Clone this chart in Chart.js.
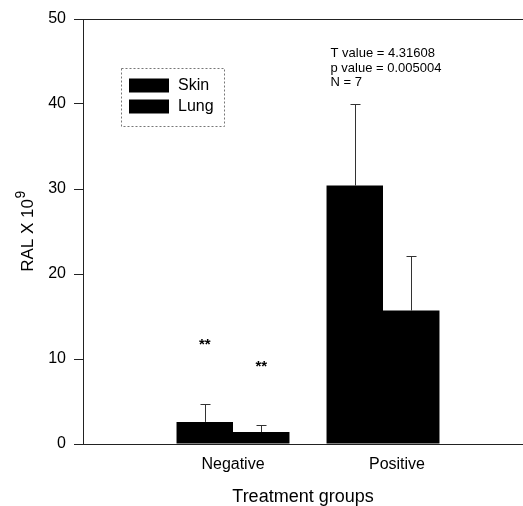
<!DOCTYPE html>
<html>
<head>
<meta charset="utf-8">
<script src="https://cdn.jsdelivr.net/npm/chart.js@4/dist/chart.umd.min.js"></script>
<style>
html,body{margin:0;padding:0;background:#fff;overflow:hidden}
#wrap{width:523px;height:506px;position:relative}
</style>
</head>
<body>
<div id="wrap"><canvas id="c" width="523" height="506"></canvas></div>
<script>
// ---- data ----
const categories = ['Negative', 'Positive'];
const categoryPositions = [1, 2];
const seriesNames = ['Skin', 'Lung'];
const skinMeans = [2.6, 30.4];
const skinErrors = [2.15, 9.6];
const lungMeans = [1.4, 15.7];
const lungErrors = [0.87, 6.45];
const skinMarks = ['**', ''];
const skinMarkLevels = [12.2, null];
const lungMarks = ['**', ''];
const lungMarkLevels = [9.6, null];
const yTicks = [0, 10, 20, 30, 40, 50];
const statLines = ['T value = 4.31608', 'p value = 0.005004', 'N = 7'];
const yTitleMain = 'RAL X 10';
const yTitleSup = '9';
const xTitle = 'Treatment groups';

const FONT = '"Liberation Sans", Arial, Helvetica, sans-serif';
const INK = '#000';
const LINE = '#222';

const decor = {
  id: 'decor',
  afterDatasetsDraw(chart) {
    const {ctx, chartArea: a, scales: {x, y}} = chart;
    ctx.save();
    // top frame line
    ctx.strokeStyle = LINE; ctx.lineWidth = 1;
    const ty = Math.round(a.top) + 0.5;
    ctx.beginPath(); ctx.moveTo(a.left, ty); ctx.lineTo(a.right, ty); ctx.stroke();

    // error bars (upper only)
    const means = [skinMeans, lungMeans];
    const errs = [skinErrors, lungErrors];
    ctx.strokeStyle = '#333';
    for (let d = 0; d < 2; d++) {
      const meta = chart.getDatasetMeta(d);
      meta.data.forEach((bar, i) => {
        const xp = Math.round(bar.x) + 0.5;
        const yb = y.getPixelForValue(means[d][i]);
        const yt = Math.round(y.getPixelForValue(means[d][i] + errs[d][i])) + 0.5;
        ctx.beginPath(); ctx.moveTo(xp, yb); ctx.lineTo(xp, yt); ctx.stroke();
        ctx.beginPath(); ctx.moveTo(xp - 5, yt); ctx.lineTo(xp + 5, yt); ctx.stroke();
      });
    }

    // significance marks
    const marks = [skinMarks, lungMarks];
    const levels = [skinMarkLevels, lungMarkLevels];
    ctx.fillStyle = INK;
    ctx.font = 'bold 15px ' + FONT;
    ctx.textAlign = 'center'; ctx.textBaseline = 'alphabetic';
    for (let d = 0; d < 2; d++) {
      const meta = chart.getDatasetMeta(d);
      meta.data.forEach((bar, i) => {
        if (!marks[d][i] || levels[d][i] == null) return;
        ctx.fillText(marks[d][i], bar.x, y.getPixelForValue(levels[d][i]) + 9);
      });
    }

    // statistics text
    const pb = chart.getDatasetMeta(0).data[1];
    ctx.font = '13px ' + FONT;
    ctx.textAlign = 'left'; ctx.textBaseline = 'middle';
    const sx = pb.x - pb.width / 2 + 4;
    const sy = y.getPixelForValue(45.9);
    statLines.forEach((t, i) => ctx.fillText(t, sx, sy + i * 14.5));

    // legend
    const lx = a.left + 38, ly = a.top + 48.5;
    ctx.strokeStyle = '#777'; ctx.setLineDash([2, 2]);
    ctx.strokeRect(Math.round(lx) + 0.5, Math.round(ly) + 0.5, 103, 58);
    ctx.setLineDash([]);
    ctx.font = '16px ' + FONT;
    seriesNames.forEach((n, i) => {
      const ry = ly + 11 + i * 21;
      ctx.fillStyle = chart.data.datasets[i].backgroundColor;
      ctx.fillRect(lx + 8, ry, 40, 14);
      ctx.fillStyle = INK;
      ctx.fillText(n, lx + 57, ry + 7.5);
    });

    // category labels
    ctx.font = '16px ' + FONT;
    ctx.textAlign = 'center'; ctx.textBaseline = 'middle';
    const labelShift = [0, 14];
    categories.forEach((c, i) => {
      ctx.fillText(c, x.getPixelForValue(categoryPositions[i]) + labelShift[i], a.bottom + 21);
    });

    // y title with superscript
    ctx.translate(27, (a.top + a.bottom) / 2);
    ctx.rotate(-Math.PI / 2);
    ctx.font = '17px ' + FONT;
    const wMain = ctx.measureText(yTitleMain).width;
    ctx.font = '14px ' + FONT;
    const wSup = ctx.measureText(yTitleSup).width;
    const start = -(wMain + wSup) / 2;
    ctx.textAlign = 'left'; ctx.textBaseline = 'alphabetic';
    ctx.font = '17px ' + FONT;
    ctx.fillText(yTitleMain, start, 6);
    ctx.font = '14px ' + FONT;
    ctx.fillText(yTitleSup, start + wMain + 0.5, -2);
    ctx.restore();
  }
};

const chart = new Chart(document.getElementById('c'), {
  type: 'bar',
  data: {
    datasets: [
      {
        label: seriesNames[0],
        data: categoryPositions.map((p, i) => ({x: p, y: skinMeans[i]})),
        backgroundColor: '#000',
        borderWidth: 0,
        categoryPercentage: 0.753,
        barPercentage: 1
      },
      {
        label: seriesNames[1],
        data: categoryPositions.map((p, i) => ({x: p, y: lungMeans[i]})),
        backgroundColor: '#000',
        borderWidth: 0,
        categoryPercentage: 0.753,
        barPercentage: 1
      }
    ]
  },
  options: {
    responsive: false,
    animation: false,
    devicePixelRatio: 1,
    layout: {padding: {top: 19, right: 0, bottom: 0, left: 0}},
    plugins: {legend: {display: false}, tooltip: {enabled: false}},
    scales: {
      x: {
        type: 'linear',
        offset: false,
        bounds: 'data',
        min: 0,
        max: 2.9333,
        afterBuildTicks: s => { s.ticks = categoryPositions.map(v => ({value: v})); },
        afterFit: s => { s.height = 62; },
        ticks: {display: false},
        grid: {display: false, offset: false},
        border: {display: true, color: LINE, width: 1},
        title: {
          display: true, text: xTitle, color: INK,
          font: {family: FONT, size: 18, lineHeight: 1},
          padding: {top: 0, bottom: 0}
        }
      },
      y: {
        min: 0,
        max: 50,
        afterBuildTicks: s => { s.ticks = yTicks.map(v => ({value: v})); },
        afterFit: s => { s.width = 83; },
        ticks: {color: INK, font: {family: FONT, size: 16}, padding: 8},
        grid: {drawOnChartArea: false, drawTicks: true, tickLength: 9, color: LINE, tickColor: LINE},
        border: {display: true, color: LINE, width: 1}
      }
    }
  },
  plugins: [decor]
});
</script>
</body>
</html>
